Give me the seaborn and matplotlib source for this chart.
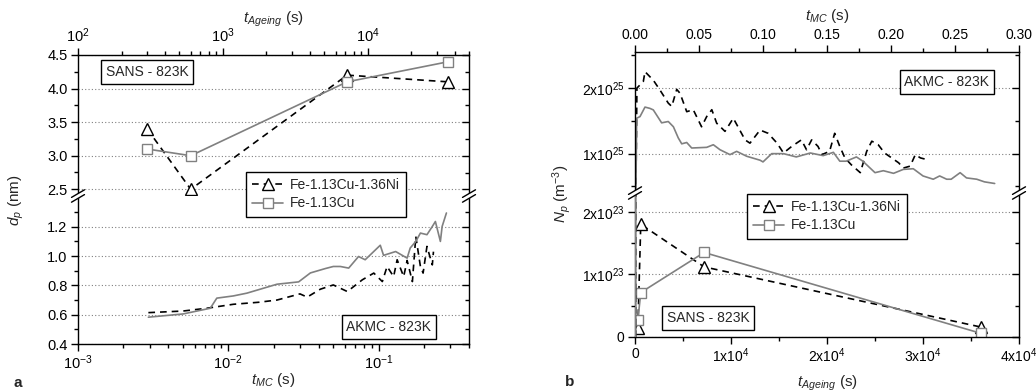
import matplotlib
matplotlib.use("Agg")
import matplotlib.pyplot as plt
import seaborn as sns
import numpy as np
from matplotlib.ticker import (FixedLocator, FuncFormatter, MultipleLocator,
                               LogLocator, NullFormatter, FormatStrFormatter)
from matplotlib.lines import Line2D
from matplotlib.patches import Polygon

# ---------------- data ----------------
series_names = ["Fe-1.13Cu-1.36Ni", "Fe-1.13Cu"]

# SANS (ageing time in s)
t_ageing = [300, 600, 7200, 36000]
dp_sans_cuni = [3.4, 2.5, 4.2, 4.1]            # nm
dp_sans_cu = [3.1, 3.0, 4.1, 4.4]              # nm
np_sans_cuni = [0.15e23, 1.80e23, 1.12e23, 0.16e23]   # m^-3
np_sans_cu = [0.27e23, 0.71e23, 1.35e23, 0.06e23]     # m^-3

# AKMC mean diameter (nm) vs Monte Carlo time (s)
t_mc_dp_cu = [0.00294, 0.0050, 0.00759, 0.00839, 0.0108, 0.0133, 0.0211, 0.0294,
              0.0352, 0.0443, 0.050, 0.0557, 0.0633, 0.0736, 0.0815, 0.1027, 0.108,
              0.130, 0.155, 0.1625, 0.177, 0.19, 0.21, 0.228, 0.239, 0.258, 0.265, 0.283]
dp_akmc_cu = [0.583, 0.605, 0.644, 0.713, 0.728, 0.747, 0.808, 0.824, 0.885, 0.915,
              0.929, 0.929, 0.918, 0.997, 0.975, 1.074, 1.005, 1.031, 0.986, 1.055,
              1.10, 1.157, 1.146, 1.202, 1.236, 1.10, 1.202, 1.294]
t_mc_dp_cuni = [0.00294, 0.0050, 0.0072, 0.0108, 0.0160, 0.0211, 0.030, 0.0335, 0.041,
                0.050, 0.062, 0.078, 0.093, 0.106, 0.114, 0.126, 0.133, 0.147, 0.155,
                0.168, 0.177, 0.190, 0.198, 0.21, 0.228, 0.232]
dp_akmc_cuni = [0.614, 0.625, 0.644, 0.671, 0.685, 0.70, 0.742, 0.72, 0.774, 0.803,
                0.758, 0.838, 0.884, 0.826, 0.929, 0.86, 0.975, 0.86, 0.97, 0.826,
                1.134, 0.929, 0.884, 1.066, 0.94, 1.03]

# AKMC number density (in units of 1e25 m^-3) vs Monte Carlo time (s)
n_unit = 1e25
t_mc_np_cu = [0.0005, 0.0013, 0.0039, 0.0078, 0.0117, 0.0143, 0.0208, 0.026, 0.030, 0.0338,
              0.0365, 0.0404, 0.0443, 0.056, 0.0612, 0.0664, 0.0742, 0.0794, 0.0873, 0.0977,
              0.100, 0.1068, 0.116, 0.126, 0.137, 0.147, 0.155, 0.160, 0.165, 0.173,
              0.178, 0.1875, 0.194, 0.202, 0.2096, 0.2174, 0.225, 0.233, 0.238, 0.2435,
              0.247, 0.254, 0.259, 0.267, 0.273, 0.281]
np_akmc_cu = [0, 1.54, 1.565, 1.71, 1.69, 1.667, 1.47, 1.49, 1.41, 1.24,
              1.15, 1.17, 1.086, 1.096, 1.136, 1.06, 0.985, 1.035, 0.96, 0.90,
              0.874, 1.0, 1.0, 0.95, 1.01, 0.97, 1.02, 0.885, 0.885, 0.95,
              0.885, 0.71, 0.74, 0.70, 0.76, 0.77, 0.66, 0.61, 0.66, 0.61,
              0.61, 0.71, 0.63, 0.61, 0.57, 0.545]
t_mc_np_cuni = [0.0005, 0.0015, 0.0065, 0.0078, 0.0143, 0.0195, 0.026, 0.0287, 0.0326, 0.0352,
                0.0404, 0.0455, 0.052, 0.056, 0.060, 0.0638, 0.0703, 0.0768, 0.086, 0.0898,
                0.0977, 0.104, 0.111, 0.116, 0.1224, 0.130, 0.134, 0.138, 0.143, 0.146,
                0.152, 0.156, 0.160, 0.164, 0.169, 0.176, 0.181, 0.185, 0.190, 0.195,
                0.2005, 0.206, 0.2096, 0.215, 0.219, 0.223, 0.228]
np_akmc_cuni = [0, 2.0, 2.1, 2.25, 2.12, 1.97, 1.77, 1.72, 1.98, 1.92,
                1.64, 1.67, 1.41, 1.565, 1.67, 1.465, 1.34, 1.54, 1.21, 1.16,
                1.36, 1.31, 1.16, 1.01, 1.11, 1.21, 1.06, 1.21, 1.11, 0.985,
                1.035, 1.31, 1.11, 0.935, 0.83, 0.71, 1.035, 1.19, 1.136, 1.01,
                0.935, 0.86, 0.78, 0.81, 0.985, 0.935, 0.91]

# ---------------- style ----------------
sns.set_style("ticks")
plt.rcParams.update({
    "font.family": ["Liberation Sans", "DejaVu Sans"],
    "mathtext.fontset": "custom",
    "mathtext.rm": "Liberation Sans",
    "mathtext.it": "Liberation Sans:italic",
    "mathtext.default": "regular",
    "axes.linewidth": 1.0,
    "axes.edgecolor": "black",
    "xtick.color": "black",
    "ytick.color": "black",
    "xtick.labelsize": 10,
    "ytick.labelsize": 10,
})

BLACK = "#000000"
GRAY = "#808080"
DASH = (0, (4, 3))
FS_LABEL = 11

W, H = 1036, 392
fig = plt.figure(figsize=(W / 100, H / 100), dpi=100)


def rect(x0, x1, ytop, ybot):
    return [x0 / W, 1 - ybot / H, (x1 - x0) / W, (ybot - ytop) / H]


ax_lu = fig.add_axes(rect(78, 469, 55, 196))
ax_ll = fig.add_axes(rect(78, 469, 196, 344))
ax_ru = fig.add_axes(rect(635, 1019, 52, 193))
ax_rl = fig.add_axes(rect(635, 1019, 193, 337))

line_cuni = dict(color=BLACK, linewidth=1.2, linestyle=DASH)
line_cu = dict(color=GRAY, linewidth=1.2, linestyle="-")
mk_cuni = dict(marker="^", markersize=9, markerfacecolor="white",
               markeredgecolor=BLACK, markeredgewidth=1.0)
mk_cu = dict(marker="s", markersize=7.5, markerfacecolor="white",
             markeredgecolor=GRAY, markeredgewidth=1.0)


def style_y(ax, lim, majors, minors, fmt=None, size=10):
    ax.set_ylim(*lim)
    ax.yaxis.set_major_locator(FixedLocator(majors))
    ax.yaxis.set_minor_locator(FixedLocator(minors))
    if fmt is not None:
        ax.yaxis.set_major_formatter(fmt)
    ax.tick_params(axis="y", which="both", direction="out", left=True, right=False,
                   labelsize=size, pad=2.5)
    ax.tick_params(axis="y", which="major", length=5, width=1.0)
    ax.tick_params(axis="y", which="minor", length=3, width=1.0)
    ax.yaxis.grid(True, which="major", linestyle=(0, (1, 2)), color=GRAY, linewidth=0.8)
    ax.xaxis.grid(False)
    ax.set_xlabel("")
    ax.set_ylabel("")
    # inward ticks on the right spine
    tw = ax.twinx()
    tw.set_ylim(*lim)
    tw.yaxis.set_major_locator(FixedLocator(majors))
    tw.yaxis.set_minor_locator(FixedLocator(minors))
    tw.tick_params(axis="y", which="both", direction="in", right=True, labelright=False)
    tw.tick_params(axis="y", which="major", length=5, width=1.0)
    tw.tick_params(axis="y", which="minor", length=3, width=1.0)
    for s in tw.spines.values():
        s.set_visible(False)


def style_x(ax, side, size=10):
    if side == "top":
        ax.xaxis.tick_top()
        ax.tick_params(axis="x", which="both", direction="out", top=True, bottom=False,
                       labeltop=True, labelbottom=False)
        ax.spines["bottom"].set_visible(False)
    else:
        ax.xaxis.tick_bottom()
        ax.tick_params(axis="x", which="both", direction="out", top=False, bottom=True,
                       labeltop=False, labelbottom=True)
        ax.spines["top"].set_visible(False)
    ax.tick_params(axis="x", which="major", length=5, width=1.0, pad=2, labelsize=size)
    ax.tick_params(axis="x", which="minor", length=3, width=1.0)


# ---------------- panel a ----------------
ax_lu.set_xscale("log")
ax_ll.set_xscale("log")

sns.lineplot(x=t_ageing, y=dp_sans_cuni, ax=ax_lu, estimator=None, sort=False,
             legend=False, **line_cuni, **mk_cuni)
sns.lineplot(x=t_ageing, y=dp_sans_cu, ax=ax_lu, estimator=None, sort=False,
             legend=False, **line_cu, **mk_cu)
sns.lineplot(x=t_mc_dp_cuni, y=dp_akmc_cuni, ax=ax_ll, estimator=None, sort=False,
             legend=False, **line_cuni)
sns.lineplot(x=t_mc_dp_cu, y=dp_akmc_cu, ax=ax_ll, estimator=None, sort=False,
             legend=False, **line_cu)

ax_lu.set_xlim(100, 5e4)
ax_ll.set_xlim(1e-3, 0.4)
for ax in (ax_lu, ax_ll):
    ax.xaxis.set_major_locator(LogLocator(base=10))
    ax.xaxis.set_minor_locator(LogLocator(base=10, subs=np.arange(2, 10)))
    ax.xaxis.set_minor_formatter(NullFormatter())
style_x(ax_lu, "top", 10.5)
style_x(ax_ll, "bottom", 10.5)
style_y(ax_lu, (2.4, 4.5), [2.5, 3.0, 3.5, 4.0, 4.5], [2.75, 3.25, 3.75, 4.25],
        FormatStrFormatter("%.1f"), 10.5)
style_y(ax_ll, (0.4, 1.41), [0.4, 0.6, 0.8, 1.0, 1.2], [0.5, 0.7, 0.9, 1.1, 1.3],
        FormatStrFormatter("%.1f"), 10.5)

# ---------------- panel b ----------------
sns.lineplot(x=t_mc_np_cuni, y=np.array(np_akmc_cuni) * n_unit, ax=ax_ru, estimator=None,
             sort=False, legend=False, **line_cuni)
sns.lineplot(x=t_mc_np_cu, y=np.array(np_akmc_cu) * n_unit, ax=ax_ru, estimator=None,
             sort=False, legend=False, **line_cu)
ax_ru.set_xlim(0, 0.30)
ax_ru.xaxis.set_major_locator(MultipleLocator(0.05))
ax_ru.xaxis.set_minor_locator(MultipleLocator(0.025))
ax_ru.xaxis.set_major_formatter(FormatStrFormatter("%.2f"))
style_x(ax_ru, "top")


def sci_fmt(v, pos):
    if v == 0:
        return "0"
    e = int(np.floor(np.log10(abs(v)) + 1e-9))
    m = v / 10 ** e
    return f"{m:.0f}x$10^{{{e}}}$"


style_y(ax_ru, (0.4e25, 2.55e25), [1e25, 2e25], [0.5e25, 1.5e25, 2.5e25],
        FuncFormatter(sci_fmt))

# AKMC curves continue through the lower part of the broken axis
ax_mc = ax_rl.twiny()
sns.lineplot(x=t_mc_np_cuni, y=np.array(np_akmc_cuni) * n_unit, ax=ax_mc, estimator=None,
             sort=False, legend=False, **line_cuni)
sns.lineplot(x=t_mc_np_cu, y=np.array(np_akmc_cu) * n_unit, ax=ax_mc, estimator=None,
             sort=False, legend=False, **line_cu)
ax_mc.set_xlim(0, 0.30)
ax_mc.xaxis.set_visible(False)
for s in ax_mc.spines.values():
    s.set_visible(False)
ax_mc.set_xlabel("")

sns.lineplot(x=t_ageing, y=np_sans_cuni, ax=ax_rl, estimator=None, sort=False,
             legend=False, **line_cuni, **mk_cuni)
sns.lineplot(x=t_ageing, y=np_sans_cu, ax=ax_rl, estimator=None, sort=False,
             legend=False, **line_cu, **mk_cu)
ax_rl.set_xlim(0, 4e4)
ax_rl.xaxis.set_major_locator(MultipleLocator(1e4))
ax_rl.xaxis.set_minor_locator(MultipleLocator(5e3))
ax_rl.xaxis.set_major_formatter(FuncFormatter(sci_fmt))
style_x(ax_rl, "bottom")
style_y(ax_rl, (0, 2.3e23), [0, 1e23, 2e23], [0.5e23, 1.5e23], FuncFormatter(sci_fmt))
ax_mc.set_ylim(0, 2.3e23)

# ---------------- break marks ----------------
def break_mark(xp, yp):
    dx, dy, gap = 6.5, 3.8, 2.4
    lo = [(xp - dx, yp + dy + gap), (xp + dx, yp - dy + gap)]
    hi = [(xp - dx, yp + dy - gap), (xp + dx, yp - dy - gap)]
    poly = [lo[0], lo[1], hi[1], hi[0]]
    fig.add_artist(Polygon([(px / W, 1 - py / H) for px, py in poly], closed=True,
                           transform=fig.transFigure, facecolor="white",
                           edgecolor="none", zorder=10))
    for seg in (lo, hi):
        fig.add_artist(Line2D([seg[0][0] / W, seg[1][0] / W],
                              [1 - seg[0][1] / H, 1 - seg[1][1] / H],
                              transform=fig.transFigure, color=BLACK, lw=1.0, zorder=11))


for xp, yp in [(78, 196), (469, 196), (635, 193), (1019, 193)]:
    break_mark(xp, yp)

# ---------------- legends and annotations ----------------
handles = [Line2D([], [], **line_cuni, **mk_cuni), Line2D([], [], **line_cu, **mk_cu)]
for anchor in [(246 / W, 1 - 172 / H), (747 / W, 1 - 194 / H)]:
    leg = fig.legend(handles, series_names, loc="upper left", bbox_to_anchor=anchor,
                     frameon=True, fancybox=False, edgecolor=BLACK, framealpha=1,
                     fontsize=10, handlelength=2.2, borderpad=0.45, labelspacing=0.3,
                     handletextpad=0.5, borderaxespad=0)
    leg.get_frame().set_linewidth(1.0)

box = dict(boxstyle="square,pad=0.35", facecolor="white", edgecolor=BLACK, linewidth=1.0)
for (xp, yp), txt in [((147, 72), "SANS - 823K"), ((389, 327), "AKMC - 823K"),
                      ((947, 82), "AKMC - 823K"), ((708, 318), "SANS - 823K")]:
    fig.text(xp / W, 1 - yp / H, txt, ha="center", va="center", fontsize=10, bbox=box,
             zorder=12)

t_age_lbl = r"$\mathit{t}_{\mathit{Ageing}}$ (s)"
t_mc_lbl = r"$\mathit{t}_{\mathit{MC}}$ (s)"
fig.text(273.5 / W, 1 - 23 / H, t_age_lbl, ha="center", va="baseline", fontsize=FS_LABEL)
fig.text(273.5 / W, 1 - 384 / H, t_mc_lbl, ha="center", va="baseline", fontsize=FS_LABEL)
fig.text(827 / W, 1 - 20 / H, t_mc_lbl, ha="center", va="baseline", fontsize=FS_LABEL)
fig.text(827 / W, 1 - 387 / H, t_age_lbl, ha="center", va="baseline", fontsize=FS_LABEL)
fig.text(16 / W, 1 - 200 / H, r"$\mathit{d}_{\mathit{p}}$ (nm)", rotation=90,
         ha="center", va="center", fontsize=FS_LABEL)
fig.text(562 / W, 1 - 194 / H, r"$\mathit{N}_{\mathit{p}}$ (m$^{-3}$)", rotation=90,
         ha="center", va="center", fontsize=FS_LABEL)
fig.text(13 / W, 1 - 387 / H, "a", fontweight="bold", fontsize=11, va="baseline")
fig.text(565 / W, 1 - 386 / H, "b", fontweight="bold", fontsize=11, va="baseline")

fig.savefig("out.png", dpi=100)
